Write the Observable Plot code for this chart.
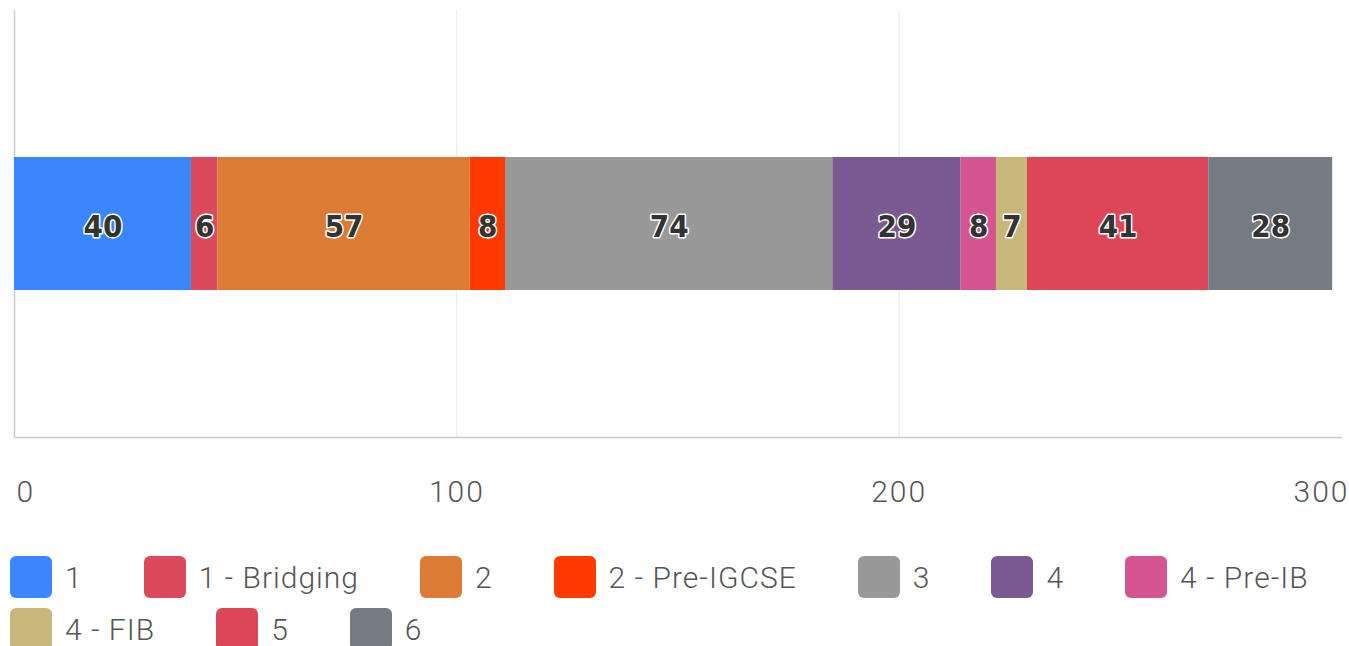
<!DOCTYPE html>
<html>
<head>
<meta charset="utf-8">
<script src="https://cdn.jsdelivr.net/npm/d3@7"></script>
<script src="https://cdn.jsdelivr.net/npm/@observablehq/plot@0.6"></script>
<style>
  html, body { margin: 0; padding: 0; background: #fff; }
  body { width: 1349px; height: 646px; overflow: hidden; font-family: Roboto, "DejaVu Sans", sans-serif; }
  #legend { display: flex; flex-wrap: wrap; margin: 8px 0 0 10px; row-gap: 10px; column-gap: 0; width: 1400px; }
  .item { display: flex; align-items: center; margin-right: 61px; height: 42px; }
  .sw { width: 42px; height: 42px; border-radius: 6px; margin-right: 13px; }
  .lab { font-size: 30px; color: #555; font-weight: 300; letter-spacing: 1px; }
  svg .xtick text { letter-spacing: 2px; }
</style>
</head>
<body>
<div id="chart"></div>
<div id="legend"></div>
<script>
const categories = ["1", "1 - Bridging", "2", "2 - Pre-IGCSE", "3", "4", "4 - Pre-IB", "4 - FIB", "5", "6"];
const values = [40, 6, 57, 8, 74, 29, 8, 7, 41, 28];
const colors = ["#3a87fd", "#db4a5c", "#dc7b33", "#fe3a00", "#999999", "#7b5a92", "#d45591", "#c8b77a", "#dc4657", "#757b83"];
const xTicks = [0, 100, 200, 300];

const data = categories.map((c, i) => ({group: "all", category: c, value: values[i]}));

const tickStyle = {tickSize: 0, tickPadding: 43, fontSize: 30, fill: "#555", fontWeight: 300, label: null, className: "xtick"};

const chart = Plot.plot({
  width: 1349,
  height: 548,
  marginLeft: 14,
  marginRight: 8,
  marginTop: 10,
  marginBottom: 111,
  style: {fontFamily: "Roboto, sans-serif", background: "#fff"},
  x: {domain: [0, 300], axis: null, label: null},
  y: {domain: ["all"], padding: 0.525, axis: null},
  color: {domain: categories, range: colors},
  marks: [
    Plot.ruleX(xTicks.slice(1, 3), {stroke: "#e8e8e8", strokeWidth: 1}),
    Plot.ruleX([0], {stroke: "#cccccc", strokeWidth: 1.5}),
    Plot.frame({anchor: "bottom", stroke: "#cccccc", strokeWidth: 1.5}),
    Plot.barX(data, Plot.stackX({x: "value", y: "group", fill: "category", order: null})),
    Plot.text(data, Plot.stackX({
      x: "value", y: "group", text: d => String(d.value), order: null,
      fill: "#333", stroke: "#fff", strokeWidth: 3, paintOrder: "stroke",
      fontSize: 31, fontWeight: "bold", fontFamily: "'DejaVu Sans Condensed', 'DejaVu Sans', sans-serif",
      dy: 3
    })),
    Plot.axisX(xTicks.slice(0, 1), {...tickStyle, textAnchor: "start", dx: 2}),
    Plot.axisX(xTicks.slice(1, 3), {...tickStyle, textAnchor: "middle"}),
    Plot.axisX(xTicks.slice(3), {...tickStyle, textAnchor: "start", dx: -48})
  ]
});
document.getElementById("chart").appendChild(chart);

const legend = document.getElementById("legend");
categories.forEach((c, i) => {
  const item = document.createElement("div");
  item.className = "item";
  const sw = document.createElement("div");
  sw.className = "sw";
  sw.style.background = colors[i];
  const lab = document.createElement("span");
  lab.className = "lab";
  lab.textContent = c;
  item.appendChild(sw);
  item.appendChild(lab);
  legend.appendChild(item);
});
</script>
</body>
</html>
